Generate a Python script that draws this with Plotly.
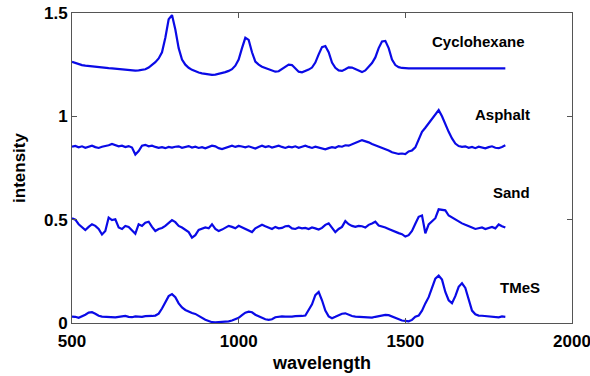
import plotly.graph_objects as go

wavelength = list(range(500, 1801, 10))

cyclohexane = [
    1.264, 1.258, 1.252, 1.248, 1.245, 1.243, 1.240, 1.238, 1.237, 1.236,
    1.235, 1.233, 1.232, 1.230, 1.228, 1.226, 1.224, 1.223, 1.222, 1.221,
    1.222, 1.224, 1.228, 1.236, 1.248, 1.262, 1.280, 1.310, 1.380, 1.470,
    1.490, 1.420, 1.330, 1.275, 1.250, 1.235, 1.225, 1.218, 1.212, 1.208,
    1.205, 1.203, 1.201, 1.202, 1.205, 1.209, 1.214, 1.220, 1.228, 1.245,
    1.275, 1.330, 1.380, 1.370, 1.310, 1.265, 1.250, 1.240, 1.234, 1.228,
    1.222, 1.216, 1.218, 1.228, 1.242, 1.250, 1.248, 1.232, 1.216, 1.213,
    1.218, 1.226, 1.236, 1.260, 1.300, 1.335, 1.340, 1.310, 1.260, 1.235,
    1.222, 1.220, 1.228, 1.237, 1.236, 1.228, 1.218, 1.214, 1.222, 1.240,
    1.258, 1.285, 1.330, 1.362, 1.365, 1.330, 1.275, 1.248, 1.238, 1.234,
    1.232, 1.232, 1.232, 1.232, 1.232, 1.232, 1.232, 1.232, 1.232, 1.232,
    1.232, 1.232, 1.232, 1.232, 1.232, 1.232, 1.232, 1.232, 1.232, 1.232,
    1.232, 1.232, 1.232, 1.232, 1.232, 1.232, 1.232, 1.232, 1.232, 1.232,
    1.232,
]

asphalt = [
    0.853, 0.857, 0.850, 0.855, 0.848, 0.852, 0.858, 0.851, 0.847, 0.853,
    0.856, 0.860, 0.866, 0.862, 0.855, 0.858, 0.851, 0.856, 0.849, 0.815,
    0.832, 0.858, 0.862, 0.855, 0.858, 0.852, 0.848, 0.851, 0.846, 0.852,
    0.849, 0.853, 0.855, 0.848, 0.852, 0.856, 0.849, 0.853, 0.847, 0.851,
    0.845, 0.852, 0.858, 0.855, 0.846, 0.842, 0.848, 0.855, 0.858, 0.852,
    0.857, 0.854, 0.850, 0.855, 0.848, 0.844, 0.852, 0.858, 0.851, 0.856,
    0.849, 0.855, 0.858, 0.852, 0.847, 0.853, 0.850, 0.855, 0.848, 0.853,
    0.858, 0.852, 0.847, 0.853, 0.848, 0.843, 0.840, 0.846, 0.851, 0.848,
    0.856, 0.853, 0.860, 0.858, 0.866, 0.872, 0.878, 0.885, 0.880, 0.874,
    0.866, 0.860, 0.852, 0.848, 0.840, 0.835, 0.826, 0.822, 0.818, 0.820,
    0.817, 0.830, 0.835, 0.850, 0.890, 0.925, 0.945, 0.965, 0.985, 1.010,
    1.030, 1.000, 0.958, 0.925, 0.893, 0.868, 0.856, 0.852, 0.855, 0.848,
    0.852, 0.846, 0.853, 0.849, 0.845, 0.851, 0.855, 0.848, 0.846, 0.852,
    0.860,
]

sand = [
    0.507, 0.500, 0.478, 0.462, 0.450, 0.465, 0.478, 0.470, 0.455, 0.428,
    0.445, 0.510, 0.498, 0.502, 0.462, 0.455, 0.470, 0.465, 0.450, 0.432,
    0.478, 0.470, 0.485, 0.490, 0.465, 0.445, 0.455, 0.460, 0.470, 0.485,
    0.498, 0.488, 0.470, 0.462, 0.450, 0.440, 0.413, 0.425, 0.450, 0.455,
    0.462, 0.458, 0.478, 0.455, 0.445, 0.452, 0.462, 0.470, 0.465, 0.458,
    0.470, 0.462, 0.455, 0.448, 0.440, 0.458, 0.465, 0.475, 0.468, 0.462,
    0.455, 0.465, 0.458, 0.460, 0.468, 0.470, 0.458, 0.455, 0.462, 0.458,
    0.460, 0.455, 0.462, 0.458, 0.452, 0.460, 0.475, 0.482, 0.458, 0.440,
    0.455, 0.465, 0.493, 0.478, 0.470, 0.465, 0.470, 0.468, 0.462, 0.475,
    0.482, 0.490, 0.472, 0.468, 0.462, 0.455, 0.448, 0.440, 0.435, 0.430,
    0.418, 0.425, 0.445, 0.480, 0.514, 0.520, 0.434, 0.477, 0.490, 0.507,
    0.550, 0.548, 0.545, 0.520, 0.510, 0.498, 0.490, 0.482, 0.475, 0.470,
    0.462, 0.455, 0.458, 0.462, 0.455, 0.460, 0.465, 0.458, 0.477, 0.468,
    0.462,
]

tmes = [
    0.031, 0.030, 0.025, 0.032, 0.040, 0.050, 0.052, 0.045, 0.035, 0.031,
    0.030, 0.028, 0.026, 0.027, 0.030, 0.032, 0.034, 0.030, 0.028, 0.032,
    0.031, 0.030, 0.033, 0.032, 0.034, 0.036, 0.045, 0.070, 0.100, 0.130,
    0.140, 0.125, 0.095, 0.075, 0.063, 0.055, 0.048, 0.044, 0.035, 0.022,
    0.016, 0.010, 0.004, 0.003, 0.004, 0.006, 0.005, 0.008, 0.012, 0.018,
    0.025, 0.038, 0.050, 0.055, 0.052, 0.040, 0.032, 0.025, 0.018, 0.015,
    0.018, 0.028, 0.031, 0.032, 0.031, 0.030, 0.031, 0.033, 0.032, 0.034,
    0.036, 0.060, 0.090, 0.135, 0.150, 0.110, 0.060, 0.032, 0.023, 0.030,
    0.038, 0.045, 0.047, 0.040, 0.034, 0.031, 0.030, 0.028, 0.027, 0.025,
    0.026, 0.030, 0.034, 0.037, 0.039, 0.038, 0.032, 0.025, 0.018, 0.012,
    0.010, 0.008, 0.015, 0.030, 0.036, 0.060, 0.095, 0.125, 0.170, 0.215,
    0.229, 0.210, 0.150, 0.110, 0.096, 0.130, 0.175, 0.192, 0.170, 0.111,
    0.060, 0.042, 0.036, 0.035, 0.033, 0.034, 0.030, 0.028, 0.027, 0.032,
    0.030,
]

series = [cyclohexane, asphalt, sand, tmes]
labels = ["Cyclohexane", "Asphalt", "Sand", "TMeS"]
label_x = [1718, 1790, 1817, 1844]
label_y = [1.36, 1.01, 0.63, 0.17]

x_ticks = [500, 1000, 1500, 2000]
y_ticks = [0, 0.5, 1, 1.5]
y_tick_text = ["0", "0.5", "1", "1.5"]

fig = go.Figure()
for s in series:
    fig.add_trace(go.Scatter(
        x=wavelength, y=s, mode="lines",
        line=dict(color="rgb(10,10,230)", width=2.2),
        showlegend=False, hoverinfo="skip",
    ))

for t, lx, ly in zip(labels, label_x, label_y):
    fig.add_annotation(
        x=lx, y=ly, text=t, showarrow=False, xanchor="center", yanchor="middle",
        font=dict(family="Liberation Sans", size=15, color="black", weight="bold"),
    )

axis_common = dict(
    showline=True, linecolor="#555555", linewidth=1, mirror="ticks",
    ticks="inside", ticklen=5, tickcolor="#555555", tickwidth=1,
    showgrid=False, zeroline=False, automargin=False,
    ticklabeloverflow="allow",
    tickfont=dict(family="Liberation Sans", size=17, color="black", weight="bold"),
)

fig.update_layout(
    width=590, height=376,
    margin=dict(l=72, r=18, t=13, b=53),
    paper_bgcolor="white", plot_bgcolor="white",
    xaxis=dict(range=[500, 2000], tickvals=x_ticks, ticktext=[str(v) for v in x_ticks],
               ticklabelstandoff=3,
               title=dict(text="wavelength", standoff=5,
                          font=dict(family="Liberation Sans", size=18, color="black", weight="bold")),
               **axis_common),
    yaxis=dict(range=[0, 1.5], tickvals=y_ticks, ticktext=y_tick_text,
               title=dict(text="intensity", standoff=14,
                          font=dict(family="Liberation Sans", size=17, color="black", weight="bold")),
               **axis_common),
)

fig.write_html("out.html")
